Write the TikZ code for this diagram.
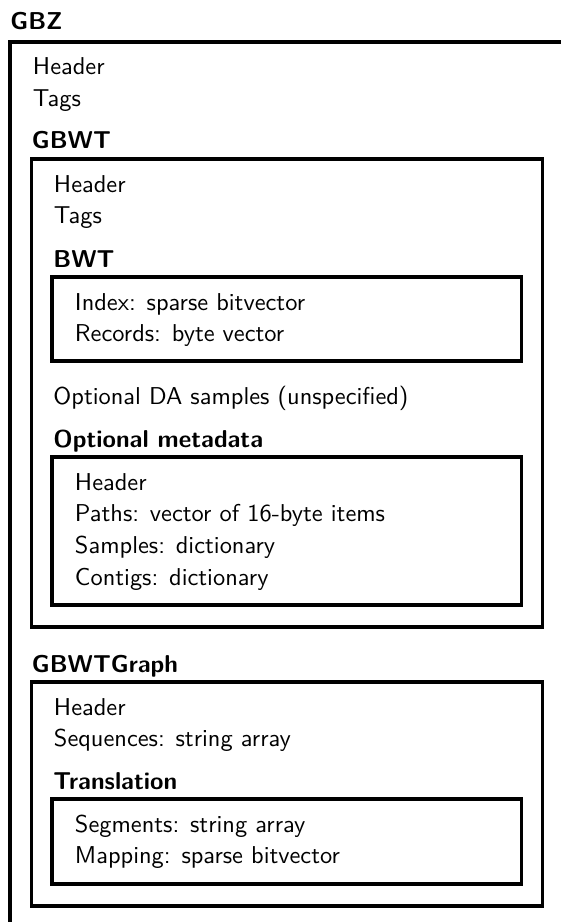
\documentclass[tikz,border=0pt]{standalone}
\begin{document}
\begin{tikzpicture}[x=0.41pt,y=-0.41pt,
  box/.style={line width=1.25pt},
  txt/.style={anchor=base west, inner sep=0pt, font=\sffamily\fontsize{10}{12}\selectfont},
  lbl/.style={anchor=base west, inner sep=0pt, font=\sffamily\bfseries\fontsize{10}{12}\selectfont}]
\useasboundingbox (0,0) rectangle (561,922);
\clip (0,0) rectangle (561,922);
% GBZ
\node[lbl] (gbz) at (10,30) {GBZ};
\draw[box] (10,42) rectangle (565,930);
\node[txt] (gbzhead) at (32.5,75) {Header};
\node[txt] (gbztags) at (32.5,106.5) {Tags};
% GBWT
\node[lbl] (gbwt) at (31.5,149) {GBWT};
\draw[box] (31.5,159) rectangle (542.5,627);
\node[txt] (gbwthead) at (53.5,192) {Header};
\node[txt] (gbwttags) at (53.5,223.5) {Tags};
% BWT
\node[lbl] (bwt) at (53,267.5) {BWT};
\draw[box] (52,277) rectangle (521.5,361);
\node[txt] (index) at (74.5,310) {Index: sparse bitvector};
\node[txt] (records) at (74.5,341.5) {Records: byte vector};
\node[txt] (da) at (53,404) {Optional DA samples (unspecified)};
% metadata
\node[lbl] (meta) at (53,447.5) {Optional metadata};
\draw[box] (52,457) rectangle (521.5,605);
\node[txt] (metahead) at (74.5,490) {Header};
\node[txt] (paths) at (74.5,521.7) {Paths: vector of 16-byte items};
\node[txt] (samples) at (74.5,553.3) {Samples: dictionary};
\node[txt] (contigs) at (74.5,585) {Contigs: dictionary};
% GBWTGraph
\node[lbl] (graph) at (31.5,672.5) {GBWTGraph};
\draw[box] (31.5,682) rectangle (542.5,906);
\node[txt] (graphhead) at (53.5,715) {Header};
\node[txt] (seqs) at (53.5,746.7) {Sequences: string array};
% Translation
\node[lbl] (trans) at (53,789.5) {Translation};
\draw[box] (52,799) rectangle (521.5,884);
\node[txt] (segs) at (74.5,832) {Segments: string array};
\node[txt] (mapping) at (74.5,863.7) {Mapping: sparse bitvector};
\end{tikzpicture}
\end{document}
